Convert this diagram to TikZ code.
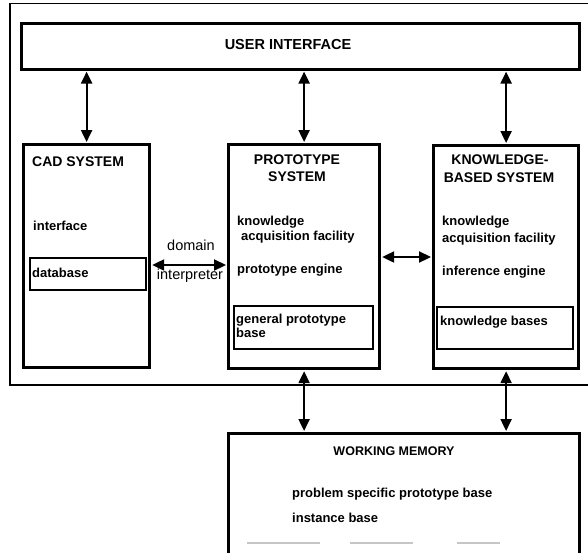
\documentclass[tikz,border=0pt]{standalone}
\usepackage{fontspec}
\setmainfont{Liberation Sans}
\usetikzlibrary{arrows.meta}
\begin{document}
\begin{tikzpicture}[x=1pt,y=-1pt,
  panel/.style={draw, line width=3.2pt, inner sep=0, anchor=north west},
  subpanel/.style={draw, line width=2pt, inner sep=0, anchor=north west},
  title/.style={font=\bfseries\fontsize{14}{16}\selectfont, inner sep=0},
  item/.style={font=\bfseries\fontsize{13}{15}\selectfont, inner sep=0, anchor=west},
  plain/.style={font=\fontsize{14.5}{16}\selectfont, inner sep=0},
  biarrow/.style={line width=2.2pt, {Triangle[length=12pt,width=11pt]}-{Triangle[length=12pt,width=11pt]}, shorten <=1pt, shorten >=1pt}
]
\useasboundingbox (0,0) rectangle (588,552);
\clip (0,0) rectangle (588,552);

% enclosing frame, open to the right
\draw[line width=1.8pt] (590,3.5) -- (10,3.5) -- (10,385) -- (590,385);

% main boxes
\node[panel, line width=2.6pt, minimum width=558pt, minimum height=46pt] (ui) at (20,22) {};
\node[panel, minimum width=126pt, minimum height=223pt] (cad) at (22,143) {};
\node[panel, minimum width=151pt, minimum height=224pt] (proto) at (227,143) {};
\node[panel, minimum width=145pt, minimum height=223pt] (kb) at (432,144) {};
\node[panel, minimum width=351pt, minimum height=140pt] (wm) at (227,432) {};

% inner stores
\node[subpanel, minimum width=116pt, minimum height=32pt] (db) at (29,257) {};
\node[subpanel, minimum width=139pt, minimum height=43pt] (gpb) at (233,305) {};
\node[subpanel, minimum width=136pt, minimum height=42pt] (kbb) at (436,306) {};

% labels
\node[title, font=\bfseries\fontsize{14.5}{16}\selectfont] (uit) at (288,45) {USER INTERFACE};

\node[title, anchor=west] (cadt) at (32,162) {CAD SYSTEM};
\node[item] (cadi) at (33,226) {interface};
\node[item] (cadd) at (32,273) {database};

\node[title] (prt1) at (297,160) {PROTOTYPE};
\node[title] (prt2) at (297,177) {SYSTEM};
\node[item] (prk1) at (237,222) {knowledge};
\node[item] (prk2) at (241,237) {acquisition facility};
\node[item] (pre) at (237,270) {prototype engine};
\node[item] (prg1) at (236,320) {general prototype};
\node[item] (prg2) at (236,333) {base};

\node[title] (kbt1) at (500,160) {KNOWLEDGE-};
\node[title] (kbt2) at (499,178) {BASED SYSTEM};
\node[item] (kbk1) at (442,222) {knowledge};
\node[item] (kbk2) at (442,239) {acquisition facility};
\node[item] (kbe) at (442,272) {inference engine};
\node[item] (kbb1) at (440,322) {knowledge bases};

\node[title, font=\bfseries\fontsize{12.5}{14}\selectfont] (wmt) at (394,451) {WORKING MEMORY};
\node[item] (wm1) at (292,494) {problem specific prototype base};
\node[item] (wm2) at (292,518) {instance base};

\node[plain] (dom) at (191,245) {domain};
\node[plain] (intp) at (190,276) {interpreter};

% connectors
\draw[biarrow] (ui.south -| cad.north) -- (cad.north);
\draw[biarrow] (ui.south -| proto.north) -- (proto.north);
\draw[biarrow] (ui.south -| kb.north) -- (kb.north);

\coordinate (dlink) at (0,265);
\coordinate (klink) at (0,257);
\draw[biarrow] (cad.east |- dlink) -- (proto.west |- dlink);
\draw[biarrow] (proto.east |- klink) -- (kb.west |- klink);

\draw[biarrow] (proto.south) -- (proto.south |- wm.north);
\draw[biarrow] (kb.south) -- (kb.south |- wm.north);

% faint traces along the lower edge
\draw[gray!45, line width=1.2pt] (247,543) -- (320,543) (350,543) -- (413,543) (457,543) -- (500,543);
\end{tikzpicture}
\end{document}
